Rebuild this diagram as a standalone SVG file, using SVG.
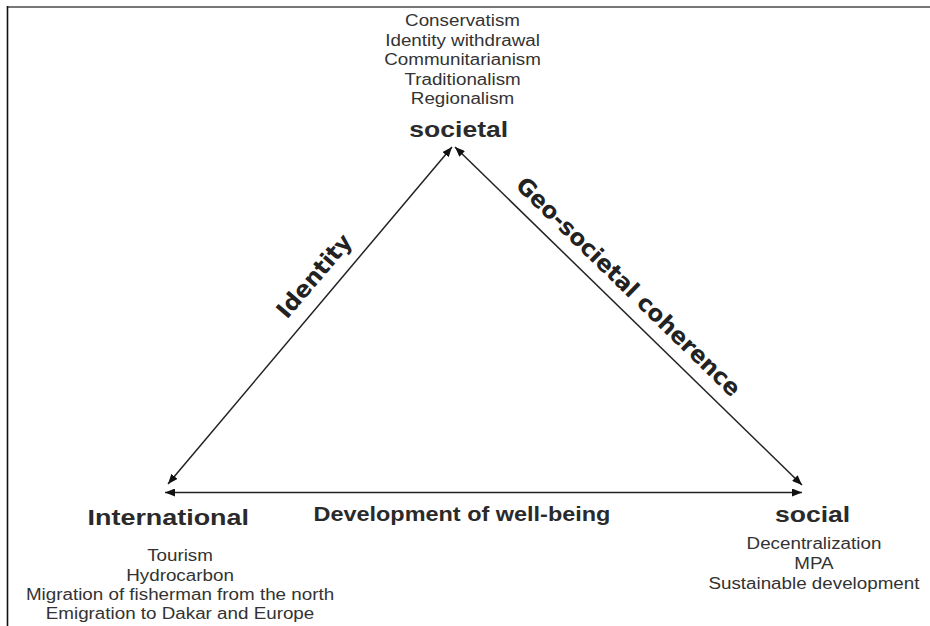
<svg xmlns="http://www.w3.org/2000/svg" width="930" height="626" viewBox="0 0 930 626">
<style>
.lst{font-family:"Liberation Sans",Arial,sans-serif;font-size:15.8px;fill:#333;text-anchor:middle}
.hd{font-family:"Liberation Sans",Arial,sans-serif;font-weight:bold;font-size:22.3px;fill:#2a2a2a;text-anchor:middle}
.rot{font-family:"DejaVu Sans",Verdana,sans-serif;font-weight:bold;font-size:23px;fill:#222;text-anchor:middle}
.edge{stroke:#222;stroke-width:1.5;fill:none;marker-start:url(#ah);marker-end:url(#ah)}
</style>
<defs>
<marker id="ah" viewBox="0 0 10 8" refX="10" refY="4" markerWidth="10" markerHeight="8" markerUnits="userSpaceOnUse" orient="auto-start-reverse">
<path d="M0,0 L10,4 L0,8 Z" fill="#111"/>
</marker>
</defs>
<rect width="930" height="626" fill="#fff"/>
<g id="frame">
<line x1="7" y1="7" x2="930" y2="7" stroke="#777" stroke-width="2"/>
<line x1="7.5" y1="6" x2="7.5" y2="626" stroke="#111" stroke-width="1.6"/>
</g>
<g id="connectors">
<line class="edge" x1="168" y1="484" x2="452" y2="147"/>
<line class="edge" x1="455" y1="147" x2="802" y2="485"/>
<line class="edge" x1="165" y1="492.5" x2="802" y2="492.5"/>
<text class="rot" transform="translate(320.1,281) rotate(-49.5)">Identity</text>
<text class="rot" transform="translate(623,292.2) rotate(44.2)">Geo-societal coherence</text>
<g transform="scale(1.19,1)">
<text class="hd" style="font-size:19.7px" x="388.2" y="521">Development of well-being</text>
</g>
</g>
<g id="node-societal" transform="scale(1.19,1)">
<text class="lst" x="388.7" y="26">Conservatism</text>
<text class="lst" x="388.7" y="45.7">Identity withdrawal</text>
<text class="lst" x="388.7" y="65.3">Communitarianism</text>
<text class="lst" x="388.7" y="85">Traditionalism</text>
<text class="lst" x="388.7" y="104.5">Regionalism</text>
<text class="hd" x="385.5" y="137.3">societal</text>
</g>
<g id="node-international" transform="scale(1.19,1)">
<text class="hd" style="font-size:22.6px" x="141.4" y="525">International</text>
<text class="lst" x="151.3" y="561">Tourism</text>
<text class="lst" x="151.3" y="580.7">Hydrocarbon</text>
<text class="lst" x="151.3" y="600">Migration of fisherman from the north</text>
<text class="lst" x="151.3" y="619.5">Emigration to Dakar and Europe</text>
</g>
<g id="node-social" transform="scale(1.19,1)">
<text class="hd" x="682.9" y="522">social</text>
<text class="lst" x="684" y="549.5">Decentralization</text>
<text class="lst" x="684" y="569">MPA</text>
<text class="lst" x="684" y="589">Sustainable development</text>
</g>
</svg>
